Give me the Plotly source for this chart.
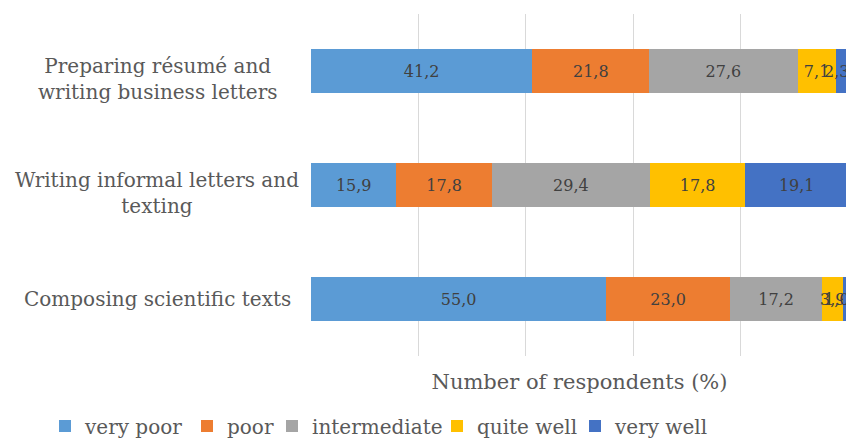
import plotly.graph_objects as go

categories = ["Preparing résumé and<br>writing business letters",
              "Writing informal letters and<br>texting",
              "Composing scientific texts"]
series_names = ["very poor", "poor", "intermediate", "quite well", "very well"]
very_poor = [41.2, 15.9, 55.0]
poor = [21.8, 17.8, 23.0]
intermediate = [27.6, 29.4, 17.2]
quite_well = [7.1, 17.8, 3.9]
very_well = [2.3, 19.1, 1.0]
colors = ["#5b9bd5", "#ed7d31", "#a5a5a5", "#ffc000", "#4472c4"]

series = [very_poor, poor, intermediate, quite_well, very_well]
font_family = "DejaVu Serif"
label_color = "#595959"

# page body has an 8px margin, so the figure is drawn at (8, 8)
W, H = 846, 431
L, R, T, B = 303, 6, 6, 83
OFF = 8
X_MAX = 100

def fmt(v):
    return f"{v:.1f}".replace(".", ",")

legend_ids = ["legend", "legend2", "legend3", "legend4", "legend5"]
legend_marker_px = [65, 207, 292, 457, 595]

fig = go.Figure()
last = len(series) - 1
for k, (name, vals, col) in enumerate(zip(series_names, series, colors)):
    texts = []
    for v in vals:
        # the narrow last segments get their label as an annotation instead
        texts.append("" if (k == last and v < 5) else fmt(v))
    fig.add_trace(go.Bar(
        y=categories, x=vals, name=name, orientation="h",
        marker=dict(color=col, line=dict(width=0)),
        text=texts,
        textposition="inside", insidetextanchor="middle",
        constraintext="none", textangle=0, cliponaxis=False,
        textfont=dict(family=font_family, size=16, color="#404040"),
        width=0.386,
        legend=legend_ids[k],
        hoverinfo="skip",
    ))

# labels of the narrow last segments, kept inside the plot's right edge
for i, cat in enumerate(categories):
    v = very_well[i]
    if v < 5:
        end = min(sum(s[i] for s in series), X_MAX)
        fig.add_annotation(x=end, y=cat, xref="x", yref="y", text=fmt(v),
                           showarrow=False, xanchor="right", yanchor="middle",
                           xshift=3,
                           font=dict(family=font_family, size=16, color="#404040"))

label_center = 157 - OFF
for cat in categories:
    multi = "<br>" in cat
    fig.add_annotation(
        x=(label_center - L) / (W - L - R), xref="paper", y=cat, yref="y",
        text=cat, showarrow=False, align="center",
        xanchor="center", yanchor="middle",
        yshift=-8 if multi else 0,
        font=dict(family=font_family, size=20, color=label_color),
    )

legend_layout = {}
for lid, mx in zip(legend_ids, legend_marker_px):
    legend_layout[lid] = dict(
        orientation="h", x=(mx - 20 - OFF) / W, y=1 - (426 - OFF) / H,
        xref="container", yref="container", xanchor="left", yanchor="middle",
        font=dict(family=font_family, size=20, color=label_color),
        itemwidth=30, bgcolor="rgba(0,0,0,0)")

fig.update_layout(
    barmode="stack",
    width=W, height=H,
    margin=dict(l=L, r=R, t=T, b=B, autoexpand=False),
    plot_bgcolor="white", paper_bgcolor="white",
    font=dict(family=font_family, color=label_color),
    showlegend=True,
    xaxis=dict(range=[0, X_MAX], dtick=20, showgrid=True, gridcolor="#d9d9d9",
               showticklabels=False, zeroline=False, showline=False, automargin=False,
               title=dict(text="Number of respondents (%)", standoff=18,
                          font=dict(family=font_family, size=21, color=label_color))),
    yaxis=dict(autorange="reversed", showticklabels=False, showgrid=False,
               showline=False, zeroline=False, automargin=False),
    **legend_layout,
)

fig.write_html("out.html")
